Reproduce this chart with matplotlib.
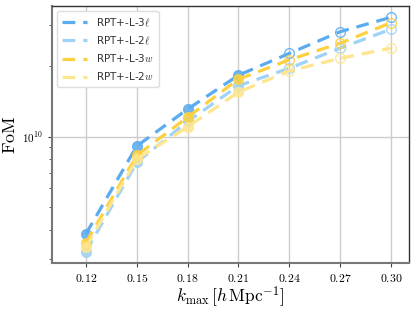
import numpy as np
import matplotlib.pyplot as plt
from matplotlib.ticker import FixedLocator, NullFormatter, FuncFormatter, LogLocator

plt.rcParams['mathtext.fontset'] = 'cm'

kmax = [0.12, 0.15, 0.18, 0.21, 0.24, 0.27, 0.30]
fom_3l = [3.83e9, 9.1e9, 1.31e10, 1.83e10, 2.27e10, 2.81e10, 3.24e10]
fom_2l = [3.22e9, 7.75e9, 1.16e10, 1.65e10, 1.96e10, 2.39e10, 2.88e10]
fom_3w = [3.51e9, 8.3e9, 1.21e10, 1.76e10, 2.13e10, 2.51e10, 3.07e10]
fom_2w = [3.36e9, 8.0e9, 1.10e10, 1.55e10, 1.91e10, 2.16e10, 2.39e10]
labels = [r'RPT+-L-3$\ell$', r'RPT+-L-2$\ell$', r'RPT+-L-3$w$', r'RPT+-L-2$w$']
colors = ['#5aabf0', '#9ed2f7', '#fdd03f', '#fee58e']
n_filled = 4  # first points drawn filled, rest hollow

fig = plt.figure(figsize=(4.15, 3.1), dpi=100)
ax = fig.add_axes([52/415, 1 - 262.5/310, 357/415, 256.5/310])

for ys, lab, c in zip([fom_3l, fom_2l, fom_3w, fom_2w], labels, colors):
    ax.plot(kmax, ys, ls='--', lw=2.3, color=c, label=lab, dashes=(4, 2.5))
    ax.plot(kmax[:n_filled], ys[:n_filled], 'o', ls='none', ms=7, color=c, alpha=0.85)
    ax.plot(kmax[n_filled:], ys[n_filled:], 'o', ls='none', ms=7, mfc='none',
            mec=c, mew=1.0, alpha=0.85)

ax.set_yscale('log')
ax.set_xlim(0.1, 0.3106)
ax.set_ylim(2.89e9, 3.62e10)
ax.set_xticks(kmax)
ax.xaxis.set_major_formatter(FuncFormatter(lambda v, p: r'$%.2f$' % v))
ax.yaxis.set_major_locator(FixedLocator([1e10]))
ax.yaxis.set_major_formatter(FuncFormatter(lambda v, p: r'$10^{10}$'))
ax.yaxis.set_minor_locator(LogLocator(base=10, subs=np.arange(2, 10)))
ax.yaxis.set_minor_formatter(NullFormatter())
ax.tick_params(axis='x', which='major', labelsize=8.5, length=3, color='#444444')
ax.tick_params(axis='y', which='major', labelsize=8, length=3, color='#444444')
ax.tick_params(axis='y', which='minor', length=2, color='#444444')
ax.grid(True, which='major', color='#cccccc', lw=1)
ax.set_axisbelow(True)

for s in ['left', 'bottom']:
    ax.spines[s].set_color('#777777')
    ax.spines[s].set_linewidth(1.5)
for s in ['top', 'right']:
    ax.spines[s].set_color('#333333')
    ax.spines[s].set_linewidth(1.0)

ax.set_xlabel(r'$k_{\rm max}\,[h\,{\rm Mpc}^{-1}]$', fontsize=12.5, labelpad=0)
ax.set_ylabel(r'$\rm FoM$', fontsize=13, labelpad=2)

leg = ax.legend(loc='upper left', fontsize=7.5, handlelength=2.4, framealpha=1,
                edgecolor='#dddddd', borderpad=0.5, labelspacing=0.55)
for t in leg.get_texts():
    t.set_color('#333333')

fig.savefig('out.png', dpi=100)
